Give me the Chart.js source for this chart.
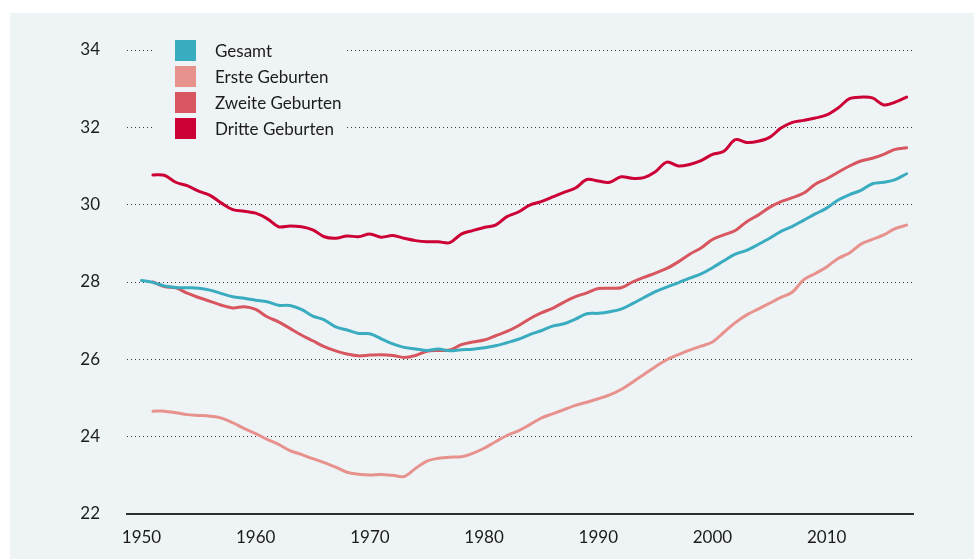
<!DOCTYPE html>
<html>
<head>
<meta charset="utf-8">
<script src="https://cdn.jsdelivr.net/npm/chart.js@4/dist/chart.umd.min.js"></script>
<style>
  html, body { margin: 0; padding: 0; background: #ffffff; }
  #panel { position: absolute; left: 10px; top: 13px; width: 964px; height: 546px; background: #eef3f6; }
  #wrap { position: absolute; left: 0; top: 0; width: 974px; height: 559px; }
</style>
</head>
<body>
<div id="panel"></div>
<div id="wrap"><canvas id="c" width="974" height="559"></canvas></div>
<script>
// ---- data ----
const seriesLabels = ["Gesamt", "Erste Geburten", "Zweite Geburten", "Dritte Geburten"];
const seriesColors = ["#3aacbf", "#e8928e", "#d8565f", "#cc0035"];

const gesamtStartYear = 1950;
const gesamt = [28.04, 27.99, 27.90, 27.86, 27.85, 27.84, 27.79, 27.70, 27.62, 27.58,
  27.53, 27.49, 27.40, 27.39, 27.29, 27.12, 27.02, 26.84, 26.76, 26.67,
  26.66, 26.53, 26.40, 26.31, 26.27, 26.23, 26.27, 26.22, 26.25, 26.26,
  26.30, 26.35, 26.43, 26.52, 26.64, 26.74, 26.86, 26.92, 27.04, 27.18,
  27.19, 27.23, 27.30, 27.44, 27.60, 27.75, 27.87, 27.98, 28.10, 28.21,
  28.37, 28.55, 28.72, 28.82, 28.97, 29.13, 29.31, 29.44, 29.60, 29.76,
  29.91, 30.12, 30.26, 30.37, 30.54, 30.58, 30.65, 30.80];

const ersteStartYear = 1951;
const erste = [24.66, 24.66, 24.62, 24.57, 24.55, 24.53, 24.48, 24.36, 24.21,
  24.08, 23.93, 23.80, 23.64, 23.54, 23.43, 23.33, 23.21, 23.08, 23.03,
  23.01, 23.02, 23.00, 22.97, 23.18, 23.37, 23.44, 23.47, 23.48, 23.57,
  23.70, 23.87, 24.03, 24.15, 24.31, 24.48, 24.59, 24.70, 24.81, 24.89,
  24.98, 25.08, 25.22, 25.41, 25.61, 25.81, 25.99, 26.12, 26.24, 26.34,
  26.45, 26.70, 26.95, 27.15, 27.30, 27.45, 27.60, 27.74, 28.06, 28.22,
  28.39, 28.61, 28.75, 28.98, 29.10, 29.22, 29.38, 29.47];

const zweiteStartYear = 1951;
const zweite = [28.00, 27.88, 27.85, 27.71, 27.60, 27.50, 27.40, 27.33, 27.36,
  27.29, 27.10, 26.97, 26.80, 26.63, 26.48, 26.33, 26.22, 26.14, 26.09,
  26.11, 26.12, 26.10, 26.05, 26.10, 26.21, 26.23, 26.24, 26.38, 26.45,
  26.50, 26.61, 26.72, 26.87, 27.05, 27.20, 27.32, 27.48, 27.62, 27.72,
  27.83, 27.84, 27.85, 28.00, 28.12, 28.23, 28.35, 28.52, 28.72, 28.88,
  29.10, 29.22, 29.33, 29.56, 29.73, 29.93, 30.08, 30.18, 30.30, 30.53,
  30.67, 30.84, 31.00, 31.13, 31.20, 31.30, 31.43, 31.47];

const dritteStartYear = 1951;
const dritte = [30.77, 30.76, 30.58, 30.49, 30.35, 30.24, 30.04, 29.87, 29.83,
  29.78, 29.64, 29.43, 29.45, 29.43, 29.35, 29.17, 29.13, 29.19, 29.17,
  29.24, 29.16, 29.20, 29.13, 29.07, 29.04, 29.04, 29.02, 29.24, 29.33,
  29.41, 29.47, 29.69, 29.81, 29.99, 30.08, 30.20, 30.32, 30.43, 30.65,
  30.61, 30.58, 30.72, 30.68, 30.70, 30.85, 31.10, 31.00, 31.04, 31.14,
  31.30, 31.38, 31.68, 31.61, 31.64, 31.74, 31.98, 32.13, 32.18, 32.24,
  32.32, 32.50, 32.74, 32.78, 32.76, 32.58, 32.65, 32.78];

const xTickYears = [1950, 1960, 1970, 1980, 1990, 2000, 2010];
const yTickValues = [22, 24, 26, 28, 30, 32, 34];

// ---- build datasets ----
function toPoints(startYear, values) {
  return values.map((v, i) => ({ x: startYear + i, y: v }));
}
const seriesData = [
  toPoints(gesamtStartYear, gesamt),
  toPoints(ersteStartYear, erste),
  toPoints(zweiteStartYear, zweite),
  toPoints(dritteStartYear, dritte)
];
const FONT = "Lato, 'Open Sans', sans-serif";

const legendPlugin = {
  id: 'boxLegend',
  afterDraw(chart) {
    const ctx = chart.ctx;
    ctx.save();
    ctx.fillStyle = '#eef3f6';
    ctx.fillRect(155, 34, 190, 112);
    const boxX = 175, boxTop = 40, box = 21, step = 26;
    chart.data.datasets.forEach((ds, i) => {
      const top = boxTop + i * step;
      ctx.fillStyle = ds.borderColor;
      ctx.fillRect(boxX, top, box, box);
      ctx.fillStyle = '#1c1c1c';
      ctx.font = "17px " + FONT;
      ctx.textBaseline = 'middle';
      ctx.textAlign = 'left';
      ctx.fillText(ds.label, 215, top + box / 2 + 1);
    });
    ctx.restore();
  }
};

new Chart(document.getElementById('c'), {
  type: 'line',
  data: {
    datasets: seriesLabels.map((lab, i) => ({
      label: lab,
      data: seriesData[i],
      borderColor: seriesColors[i],
      backgroundColor: seriesColors[i],
      borderWidth: 3,
      pointRadius: 0,
      tension: 0.35,
      fill: false,
      borderCapStyle: 'round',
      borderJoinStyle: 'round'
    }))
  },
  options: {
    responsive: false,
    animation: false,
    devicePixelRatio: 1,
    layout: { padding: { left: 0, right: 61, top: 50, bottom: 0 } },
    plugins: { legend: { display: false }, tooltip: { enabled: false } },
    scales: {
      x: {
        type: 'linear',
        min: 1948.73,
        max: 2017.56,
        afterBuildTicks: s => { s.ticks = xTickYears.map(v => ({ value: v })); },
        afterFit: s => { s.height = 45; },
        grid: { display: false, drawTicks: false },
        border: { display: true, color: '#2e2e2e', width: 2 },
        ticks: {
          padding: 13,
          color: '#1c1c1c',
          font: { family: FONT, size: 17 },
          maxRotation: 0,
          callback: v => String(v)
        }
      },
      y: {
        min: 22,
        max: 34,
        afterBuildTicks: s => { s.ticks = yTickValues.map(v => ({ value: v })); },
        afterFit: s => { s.width = 127; },
        grid: {
          drawTicks: false,
          color: ctx => (ctx.tick && ctx.tick.value === 22) ? 'rgba(0,0,0,0)' : '#3a3a3a',
          lineWidth: 1
        },
        border: { display: false, dash: [1, 3] },
        ticks: {
          padding: 27,
          color: '#1c1c1c',
          font: { family: FONT, size: 17 },
          callback: v => String(v)
        }
      }
    }
  },
  plugins: [legendPlugin]
});
</script>
</body>
</html>
